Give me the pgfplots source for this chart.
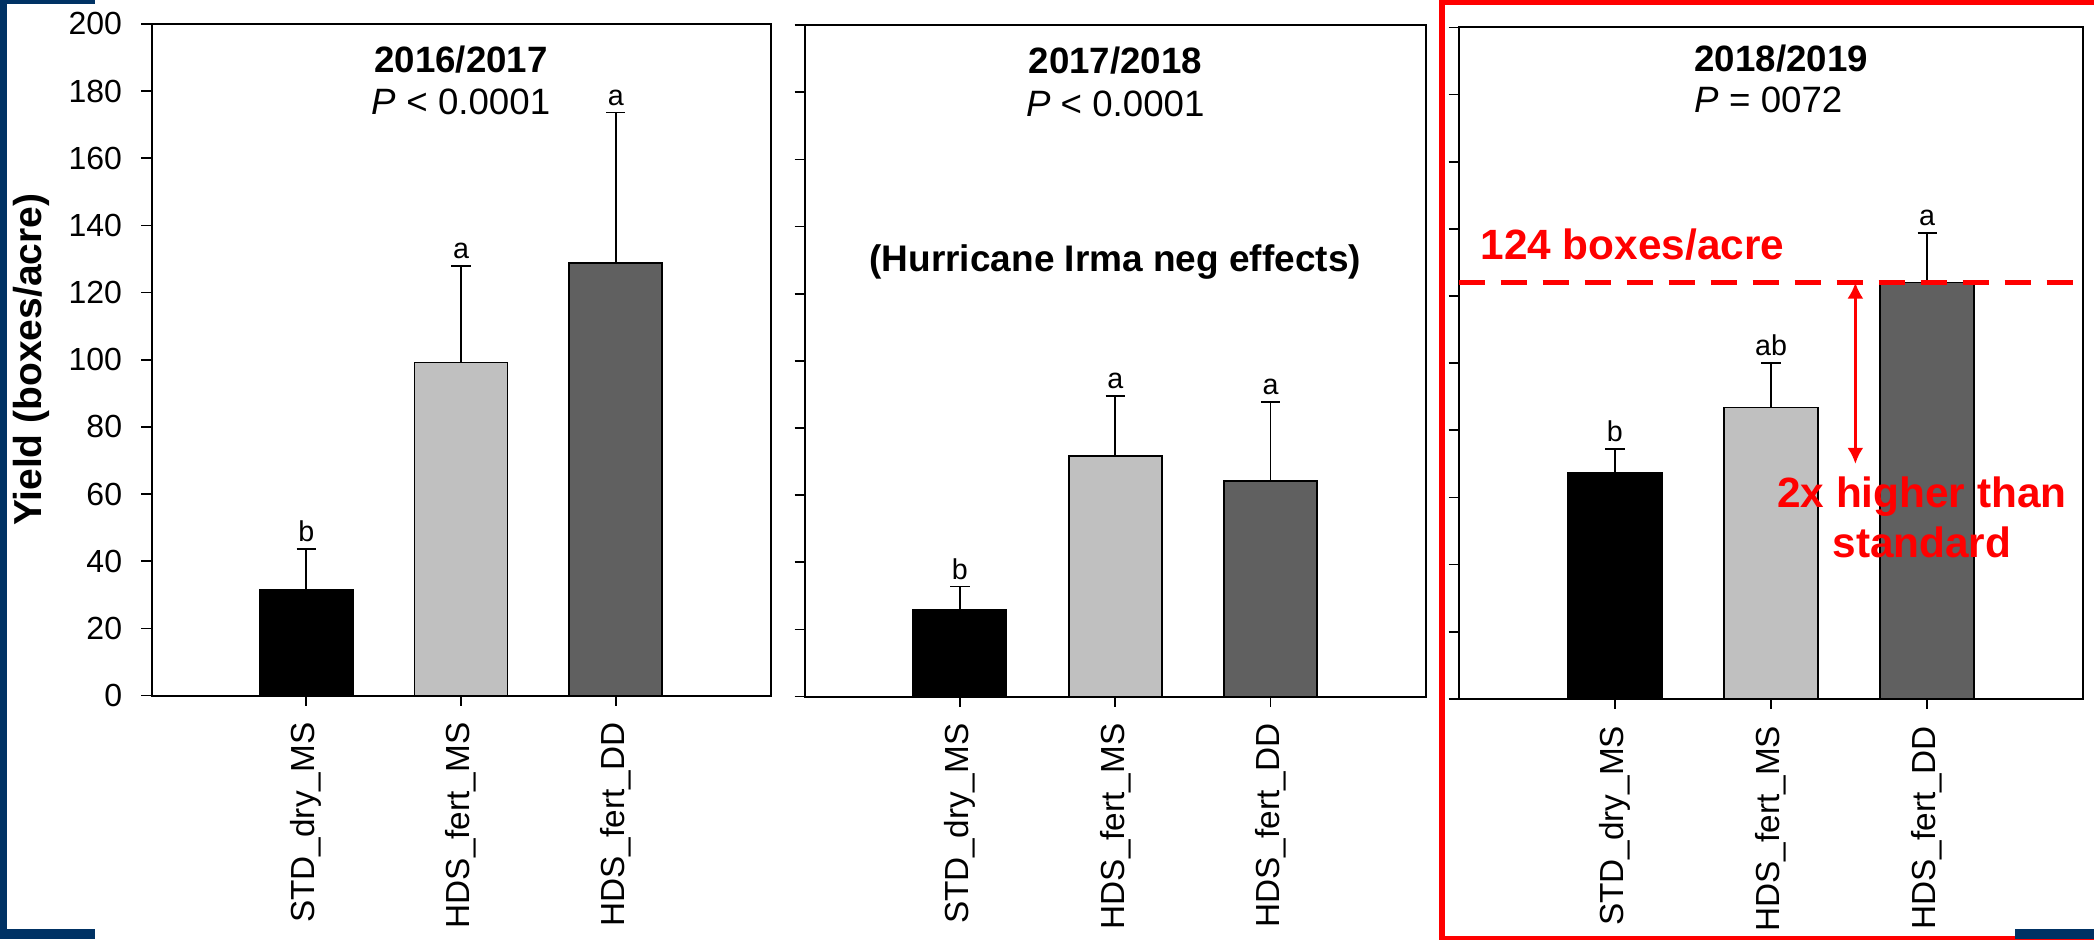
\documentclass[border=0pt]{standalone}
\usepackage{fontspec}
\setmainfont{Liberation Sans}
\usepackage{pgfplots}
\pgfplotsset{compat=1.18}
\usetikzlibrary{arrows.meta}

\definecolor{slidenavy}{RGB}{0,50,100}
\definecolor{barlight}{RGB}{192,192,192}
\definecolor{bardark}{RGB}{96,96,96}

\pgfplotsset{
  yieldpanel/.style={
    scale only axis, anchor=south west,
    xmin=0, xmax=4, ymin=0, ymax=200,
    xtick={1,2,3},
    xticklabels={STD\_dry\_MS,HDS\_fert\_MS,HDS\_fert\_DD},
    ytick={0,20,...,200},
    tick align=outside, major tick length=3pt,
    xtick pos=left, ytick pos=left,
    axis line style={line width=0.6pt, black},
    tick style={line width=0.5pt, black},
    y tick label style={font=\fontsize{9.6}{11}\selectfont},
    x tick label style={rotate=90, anchor=east, font=\fontsize{10}{12}\selectfont},
    xticklabel shift=1.6pt, yticklabel shift=2.3pt,
    /pgf/number format/assume math mode=true,
    clip=false,
  },
  yieldbar/.style={
    ybar, bar width=0.6, bar shift=0pt, draw=black, line width=0.55pt, fill=#1,
    error bars/.cd, y dir=plus, y explicit,
    error bar style={line width=0.5pt, black},
    error mark options={rotate=90, mark size=2.9pt, line width=0.5pt, black},
  },
}
\newcommand{\sigletter}[3]{\node[anchor=base, inner sep=0pt, font=\fontsize{8.6}{10}\selectfont] at (axis cs:#1,#2) [yshift=2.2pt] {#3};}
\newcommand{\titlefont}{\fontsize{11}{13}\selectfont}

\begin{document}
\begin{tikzpicture}
\useasboundingbox (0,0) rectangle (628.2pt,281.7pt);
\clip (0,0) rectangle (628.2pt,281.7pt);
\fill[white] (0,0) rectangle (628.2pt,281.7pt);

% 2016/2017
\begin{axis}[yieldpanel, at={(45.45pt,73.02pt)}, width=185.7pt, height=201.5pt,
  ylabel={\bfseries Yield (boxes/acre)},
  ylabel style={at={(rel axis cs:-0.1947,0.5)}, anchor=center, font=\fontsize{11.7}{13}\selectfont}]
  \addplot[yieldbar=black]    coordinates {(1,31.5)  +- (0,12.2)};
  \addplot[yieldbar=barlight] coordinates {(2,99.2)  +- (0,28.8)};
  \addplot[yieldbar=bardark]  coordinates {(3,128.9) +- (0,44.7)};
  \sigletter{1}{43.7}{b}
  \sigletter{2}{128.0}{a}
  \sigletter{3}{173.6}{a}
  \node[anchor=base, font=\titlefont\bfseries] at (axis cs:2,185.6) {2016/2017};
  \node[anchor=base, font=\titlefont] at (axis cs:2,172.9) {\textit{P} < 0.0001};
\end{axis}

% 2017/2018
\begin{axis}[yieldpanel, at={(241.38pt,72.75pt)}, width=186.4pt, height=201.4pt,
  yticklabels={}]
  \addplot[yieldbar=black]    coordinates {(1,25.7) +- (0,7.1)};
  \addplot[yieldbar=barlight] coordinates {(2,71.6) +- (0,17.9)};
  \addplot[yieldbar=bardark]  coordinates {(3,64.2) +- (0,23.6)};
  \sigletter{1}{32.8}{b}
  \sigletter{2}{89.5}{a}
  \sigletter{3}{87.8}{a}
  \node[anchor=base, font=\titlefont\bfseries] at (axis cs:2,185.6) {2017/2018};
  \node[anchor=base, font=\titlefont] at (axis cs:2,172.7) {\textit{P} < 0.0001};
  \node[anchor=base, font=\fontsize{11.1}{13}\selectfont\bfseries] at (axis cs:2,126.5) {(Hurricane Irma neg effects)};
\end{axis}

% 2018/2019
\begin{axis}[yieldpanel, at={(437.61pt,72.06pt)}, width=187.4pt, height=201.4pt,
  yticklabels={}]
  \addplot[yieldbar=black]    coordinates {(1,67.3) +- (0,7.2)};
  \addplot[yieldbar=barlight] coordinates {(2,86.8) +- (0,13.2)};
  \addplot[yieldbar=bardark]  coordinates {(3,124.0) +- (0,14.7)};
  \sigletter{1}{74.5}{b}
  \sigletter{2}{100.0}{ab}
  \sigletter{3}{138.7}{a}
  \node[anchor=base west, inner sep=0pt, font=\titlefont\bfseries] at (axis cs:1.506,187.0) {2018/2019};
  \node[anchor=base west, inner sep=0pt, font=\titlefont] at (axis cs:1.506,174.6) {\textit{P} = 0072};
  % best treatment level
  \addplot[red, line width=1.65pt, dash pattern=on 7.8pt off 4.8pt] coordinates {(0,124) (4,124)};
  \draw[red, line width=0.8pt, {Latex[length=4.8pt,width=4.8pt]}-{Latex[length=4.8pt,width=4.8pt]}]
    (axis cs:2.54,124) -- (axis cs:2.54,70);
  \node[anchor=base west, inner sep=0pt, text=red, font=\fontsize{12.7}{15}\selectfont\bfseries] at (axis cs:0.136,130.9) {124 boxes/acre};
  \node[anchor=base, inner sep=0pt, text=red, font=\fontsize{12.7}{15}\selectfont\bfseries] at (axis cs:2.966,57.0) {2x higher than};
  \node[anchor=base, inner sep=0pt, text=red, font=\fontsize{12.7}{15}\selectfont\bfseries] at (axis cs:2.966,42.0) {standard};
\end{axis}

% slide frame
\draw[red, line width=1.7pt] (432.6pt,0.15pt) rectangle (629.4pt,280.95pt);
\fill[slidenavy] (0,0) rectangle (2.0pt,281.7pt);
\fill[slidenavy] (0,280.5pt) rectangle (28.5pt,281.7pt);
\fill[slidenavy] (0,0) rectangle (28.5pt,3pt);
\fill[slidenavy] (604.5pt,0) rectangle (628.2pt,3pt);
\end{tikzpicture}
\end{document}
